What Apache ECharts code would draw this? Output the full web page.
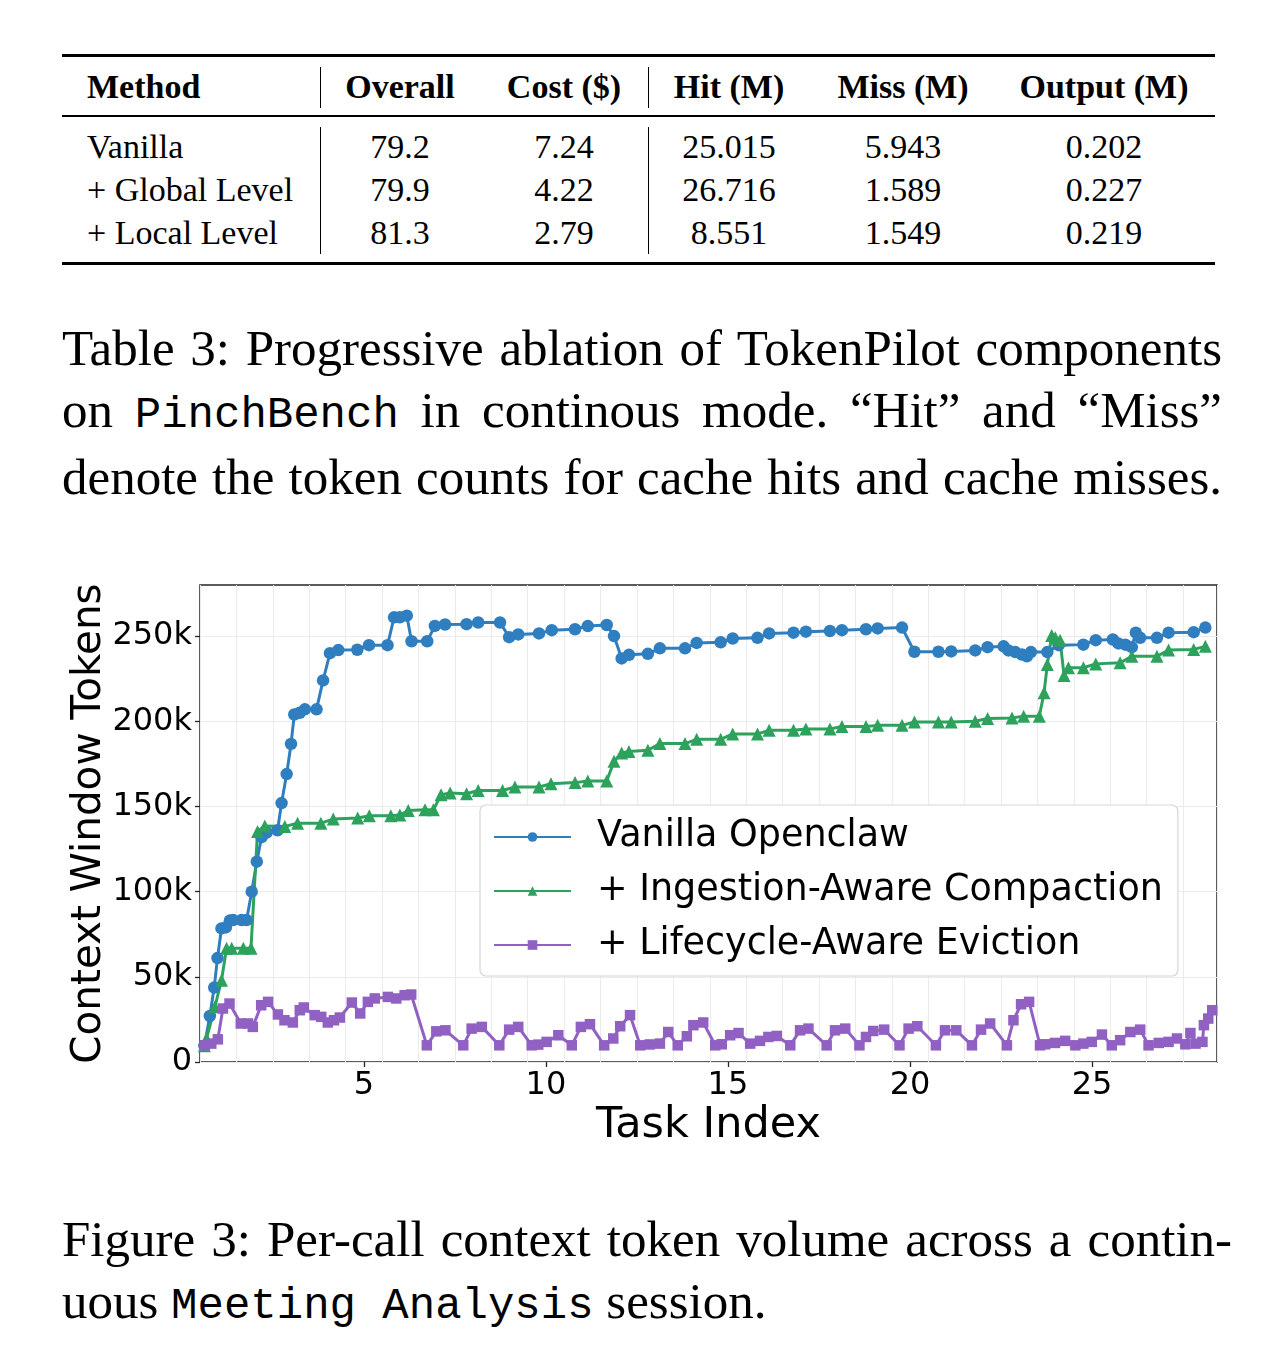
<!DOCTYPE html>
<html>
<head>
<meta charset="utf-8">
<script src="https://cdn.jsdelivr.net/npm/echarts@6.0.0/dist/echarts.min.js"></script>
<style>
  html, body { margin: 0; padding: 0; background: #fff; }
  body { width: 1266px; height: 1354px; position: relative; overflow: hidden; font-family: "Liberation Serif", "Times New Roman", serif; color: #000; }
  .rule { position: absolute; left: 62px; width: 1153px; background: #000; }
  .vline { position: absolute; width: 1.4px; background: #000; }
  .cell { position: absolute; font-size: 34px; line-height: 43px; height: 43px; white-space: nowrap; }
  .c { transform: translateX(-50%); }
  .b { font-weight: bold; }
  .cap { position: absolute; left: 62px; width: 1160px; font-size: 51px; line-height: 62px; }
  .cap div { white-space: nowrap; }
  .cap .j { text-align: justify; text-align-last: justify; white-space: normal; }
  .tt { font-family: "Liberation Mono", "DejaVu Sans Mono", monospace; font-size: 44px; }
  #chart { position: absolute; left: 0; top: 560px; width: 1266px; height: 600px; }
</style>
</head>
<body>
<div id="table"></div>
<div class="cap" style="top:317px;">
  <div class="j">Table 3: Progressive ablation of TokenPilot components</div>
  <div class="j">on <span class="tt">PinchBench</span> in continous mode. &ldquo;Hit&rdquo; and &ldquo;Miss&rdquo;</div>
  <div class="j">denote the token counts for cache hits and cache misses.</div>
</div>
<div id="chart"></div>
<div class="cap" style="top:1208px; width:1170px;">
  <div class="j">Figure 3: Per-call context token volume across a contin-</div>
  <div>uous <span class="tt">Meeting Analysis</span> session.</div>
</div>
<script>
// ---------- table data ----------
const tableHeaders = ["Method", "Overall", "Cost ($)", "Hit (M)", "Miss (M)", "Output (M)"];
const tableMethods = ["Vanilla", "+ Global Level", "+ Local Level"];
const tableOverall = ["79.2", "79.9", "81.3"];
const tableCost = ["7.24", "4.22", "2.79"];
const tableHit = ["25.015", "26.716", "8.551"];
const tableMiss = ["5.943", "1.589", "1.549"];
const tableOutput = ["0.202", "0.227", "0.219"];

// ---------- chart data (x = task index, y = thousands of tokens) ----------
const seriesNames = ["Vanilla Openclaw", "+ Ingestion-Aware Compaction", "+ Lifecycle-Aware Eviction"];
const yTickLabels = ["0", "50k", "100k", "150k", "200k", "250k"];
const xTickLabels = ["5", "10", "15", "20", "25"];

const vanillaX = [0.62,0.77,0.89,0.98,1.09,1.21,1.32,1.41,1.64,1.78,1.92,2.06,2.19,2.33,2.63,2.74,2.88,3.0,3.09,3.24,3.38,3.70,3.88,4.07,4.30,4.82,5.14,5.65,5.83,5.99,6.18,6.31,6.74,6.95,7.23,7.82,8.14,8.74,8.99,9.24,9.81,10.16,10.80,11.15,11.67,11.87,12.08,12.28,12.80,13.13,13.82,14.14,14.80,15.13,15.81,16.13,16.80,17.14,17.80,18.13,18.79,19.11,19.78,20.12,20.78,21.13,21.79,22.13,22.57,22.70,22.89,23.07,23.21,23.32,23.77,24.08,24.76,25.10,25.57,25.72,25.91,26.09,26.20,26.32,26.78,27.10,27.79,28.11];
const vanillaY = [9.5,27,43.7,61,78.4,79,83,83.3,83.3,83.3,100,117.6,132,134.7,136,152,169,186.7,204,205,207,207,224,240,241.8,242,244.7,244.7,261,261,262,247,247,256,256.8,257,258,258,249.4,251,251.6,253.5,254,255.9,256.5,250,236.9,239,239.6,242.8,242.8,246,246.4,248.6,249,251.6,252,252.6,253,253.5,254,254.5,255,240.8,240.8,241,241.6,243.5,244,241.6,240.6,239.2,238.2,240.6,240.6,244.7,245,247.6,248,245.7,245,243.5,252,249,249,252,252.3,255];

const ingestX = [0.62,0.68,0.91,1.09,1.23,1.37,1.69,1.90,2.08,2.28,2.83,3.18,3.82,4.16,4.83,5.15,5.74,5.99,6.22,6.68,6.91,7.12,7.37,7.82,8.14,8.81,9.15,9.81,10.14,10.80,11.15,11.67,11.87,12.08,12.28,12.80,13.13,13.82,14.14,14.80,15.13,15.81,16.13,16.80,17.14,17.80,18.13,18.79,19.11,19.78,20.12,20.78,21.13,21.79,22.13,22.80,23.12,23.55,23.68,23.77,23.89,23.99,24.12,24.23,24.35,24.76,25.10,25.77,26.09,26.78,27.10,27.79,28.11];
const ingestY = [9.5,13.8,32.4,48,66.7,66.7,66.7,66.7,135.3,138.6,138.2,140.2,140.2,142.6,143.2,144.5,144.5,145,147.6,148,148,156.9,157.9,157.5,159.4,159.4,161.4,161.4,163.3,164,165,165,176.5,181.4,182.3,183,186.9,186.9,189.4,189.4,192.6,192.6,194.7,194.7,195.5,195.5,197,197,197.6,197.6,199.6,199.6,199.6,200,201.6,202,203,203,216.7,233.3,250.4,249,247.6,226.9,231.4,231.4,233.7,234.3,238.2,238.2,241.8,242.2,244];

const lifeX = [0.63,0.81,0.99,1.13,1.31,1.62,1.82,1.95,2.18,2.37,2.64,2.82,3.05,3.24,3.35,3.65,3.83,4.01,4.18,4.34,4.67,4.90,5.11,5.30,5.66,5.89,6.12,6.30,6.73,6.99,7.24,7.73,7.96,8.24,8.72,8.99,9.24,9.61,9.79,10.02,10.34,10.71,10.96,11.21,11.60,11.85,12.04,12.31,12.59,12.85,13.13,13.36,13.62,13.87,14.05,14.32,14.65,14.83,15.06,15.29,15.61,15.88,16.11,16.34,16.71,16.98,17.21,17.71,17.94,18.22,18.61,18.79,18.99,19.29,19.71,19.96,20.20,20.71,20.96,21.27,21.70,21.95,22.20,22.66,22.84,23.05,23.27,23.57,23.71,23.98,24.26,24.54,24.76,24.99,25.27,25.54,25.77,26.05,26.32,26.55,26.83,27.10,27.33,27.56,27.70,27.84,28.03,28.07,28.19,28.30];
const lifeY = [9.8,10.8,13.3,31.4,34.3,22.6,22.6,20.6,33.3,35.3,27.9,24.5,23.2,30.4,32,27.5,26.5,23.2,24.5,26.1,34.9,28.5,35.3,37.3,38.2,37.3,39.2,39.6,9.8,18,18.6,9.8,19.6,20.6,9.8,19,20.6,9.8,10.2,11.8,15.7,9.8,20.6,22.2,9.8,13.8,21,27.5,9.8,10.3,10.8,17.6,9.8,15.1,21.6,23.2,9.8,10.4,15.7,17,10.8,12.4,14.7,15.3,9.8,18.6,19.6,9.8,18.6,19.6,9.8,14.7,18.2,19,9.8,19.6,21,9.8,18.6,18.6,9.8,19,22.6,9.8,24.5,33.9,35.3,9.8,10.4,11.2,12.4,9.8,10.8,11.8,16.1,9.8,12.8,17.6,19,9.8,11.2,11.8,13.8,10.4,17,10.8,11.8,21.6,25.5,30.4];

// ---------- build table ----------
(function buildTable() {
  const t = document.getElementById('table');
  function add(html) { t.insertAdjacentHTML('beforeend', html); }
  add('<div class="rule" style="top:53.5px;height:3px;"></div>');
  add('<div class="rule" style="top:115.3px;height:1.5px;"></div>');
  add('<div class="rule" style="top:261.5px;height:3px;"></div>');
  add('<div class="vline" style="left:319.5px;top:67px;height:41px;"></div>');
  add('<div class="vline" style="left:319.5px;top:127px;height:127px;"></div>');
  add('<div class="vline" style="left:647.5px;top:67px;height:41px;"></div>');
  add('<div class="vline" style="left:647.5px;top:127px;height:127px;"></div>');
  const centers = [null, 400, 564, 729, 903, 1104];
  const headTop = 65;
  tableHeaders.forEach((h, i) => {
    if (i === 0) add('<div class="cell b" style="left:87px;top:' + headTop + 'px;">' + h + '</div>');
    else add('<div class="cell b c" style="left:' + centers[i] + 'px;top:' + headTop + 'px;">' + h + '</div>');
  });
  const rowTops = [125, 168, 211];
  const cols = [tableOverall, tableCost, tableHit, tableMiss, tableOutput];
  tableMethods.forEach((m, r) => {
    add('<div class="cell" style="left:87px;top:' + rowTops[r] + 'px;">' + m + '</div>');
    cols.forEach((col, ci) => {
      add('<div class="cell c" style="left:' + centers[ci + 1] + 'px;top:' + rowTops[r] + 'px;">' + col[r] + '</div>');
    });
  });
})();

// ---------- build chart ----------
function zip(xs, ys) { return xs.map((x, i) => [x, ys[i] * 1000]); }
const colors = ['#2f7ebf', '#2ca25c', '#9061c2'];
const symbols = ['circle', 'triangle', 'rect'];
const symbolSizes = [12.5, 13, 10.5];
const datasets = [zip(vanillaX, vanillaY), zip(ingestX, ingestY), zip(lifeX, lifeY)];
const yTickValues = yTickLabels.map((_, i) => i * 50000);
const xTickValues = xTickLabels.map(Number);
const font = 'DejaVu Sans';

const chart = echarts.init(document.getElementById('chart'), null, { renderer: 'canvas' });
chart.setOption({
  animation: false,
  backgroundColor: '#fff',
  grid: { left: 200, right: 49, top: 25, bottom: 98, show: true, borderColor: '#262626', borderWidth: 1.5, backgroundColor: 'transparent', containLabel: false, outerBoundsMode: 'none' },
  xAxis: [
    {
      type: 'value', min: 0.5, max: 28.43,
      name: 'Task Index', nameLocation: 'middle', nameGap: 42, nameMoveOverlap: false,
      nameTextStyle: { fontFamily: font, fontSize: 43, color: '#000' },
      axisLine: { show: false },
      axisTick: { show: true, length: 5, lineStyle: { color: '#262626', width: 1.3 }, customValues: xTickValues },
      axisLabel: { customValues: xTickValues, formatter: v => String(v), fontFamily: font, fontSize: 32, color: '#000', margin: 8 },
      splitLine: { show: false }
    },
    {
      type: 'value', min: 0.5, max: 28.43, interval: 1, position: 'bottom',
      axisLine: { show: false }, axisTick: { show: false }, axisLabel: { show: false },
      splitLine: { show: true, lineStyle: { color: '#ebebeb', width: 1 } }
    }
  ],
  yAxis: {
    type: 'value', min: 0, max: 280000, interval: 50000,
    name: 'Context Window Tokens', nameLocation: 'middle', nameGap: 90, nameMoveOverlap: false,
    nameTextStyle: { fontFamily: font, fontSize: 40.5, color: '#000' },
    axisLine: { show: false },
    axisTick: { show: true, length: 5, lineStyle: { color: '#262626', width: 1.3 }, customValues: yTickValues },
    axisLabel: {
      customValues: yTickValues,
      formatter: v => yTickLabels[Math.round(v / 50000)] || '',
      fontFamily: font, fontSize: 32, color: '#000', margin: 8
    },
    splitLine: { show: true, lineStyle: { color: '#ebebeb', width: 1 } }
  },
  legend: {
    show: true, orient: 'vertical', left: 480, top: 245,
    backgroundColor: '#fff', borderColor: '#d6d6d6', borderWidth: 1.2, borderRadius: 6,
    padding: [12, 15, 11, 13], itemGap: 14, itemWidth: 77, itemHeight: 12,
    textStyle: { fontFamily: font, fontSize: 36.5, color: '#000', lineHeight: 40, padding: [0, 0, 0, 21] },
    data: seriesNames
  },
  series: datasets.map((d, i) => ({
    name: seriesNames[i], type: 'line', xAxisIndex: 0, data: d,
    symbol: symbols[i], symbolSize: symbolSizes[i], showAllSymbol: true,
    itemStyle: { color: colors[i] },
    lineStyle: { color: colors[i], width: 3 },
    emphasis: { disabled: true }
  }))
});
</script>
</body>
</html>
